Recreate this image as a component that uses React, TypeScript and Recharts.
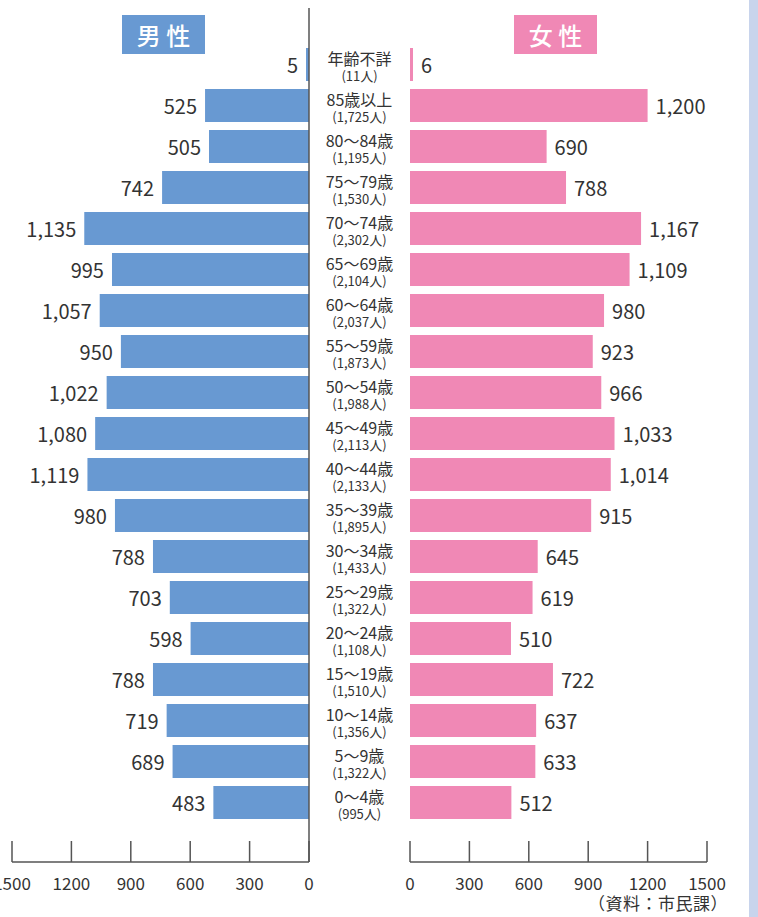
import React from "react";
import { BarChart, Bar, XAxis, YAxis, LabelList } from "recharts";

const ages = [
    "年齢不詳", "85歳以上", "80～84歳", "75～79歳", "70～74歳", "65～69歳", "60～64歳",
    "55～59歳", "50～54歳", "45～49歳", "40～44歳", "35～39歳", "30～34歳", "25～29歳",
    "20～24歳", "15～19歳", "10～14歳", "5～9歳", "0～4歳",
];
const male = [5, 525, 505, 742, 1135, 995, 1057, 950, 1022, 1080, 1119, 980, 788, 703, 598, 788, 719, 689, 483];
const female = [6, 1200, 690, 788, 1167, 1109, 980, 923, 966, 1033, 1014, 915, 645, 619, 510, 722, 637, 633, 512];
const totals = [11, 1725, 1195, 1530, 2302, 2104, 2037, 1873, 1988, 2113, 2133, 1895, 1433, 1322, 1108, 1510, 1356, 1322, 995];
const ticks = [0, 300, 600, 900, 1200, 1500];

const FONT = '"Noto Sans CJK JP", "Noto Sans", sans-serif';
const BLUE = "#6899d2";
const PINK = "#f088b5";
const AXIS = "#555";
const TEXT = "#333";

const rows = ages.map((age, i) => ({ age, male: male[i], female: female[i], total: totals[i] }));

const AxisTick = ({ x, y, payload }: any) => (
    <g>
        <line x1={x} x2={x} y1={y - 21} y2={y} stroke={AXIS} strokeWidth={1.5} />
        <text x={x} y={y + 20} textAnchor="middle" dominantBaseline="central" fontSize={17} fill={TEXT} fontFamily={FONT}>
            {payload.value}
        </text>
    </g>
);

const AgeTick = ({ x, y, payload }: any) => {
    const i = ages.indexOf(payload.value);
    return (
        <g fontFamily={FONT} fill={TEXT}>
            <text x={x + 50.5} y={y - 7} textAnchor="middle" dominantBaseline="central" fontSize={16}>
                {payload.value}
            </text>
            <text x={x + 50.5} y={y + 10.5} textAnchor="middle" dominantBaseline="central" fontSize={13}>
                ({totals[i].toLocaleString("en-US")}人)
            </text>
        </g>
    );
};

// side: which way the value text goes from the bar end
const valueLabel = (side: "left" | "right") => (p: any) => {
    const vb = p.viewBox && p.viewBox.width !== undefined ? p.viewBox : p;
    const { x, y, width, height } = vb;
    const lx = side === "left" ? Math.min(x, x + width) - 8 : Math.max(x, x + width) + 8;
    return (
        <text
            x={lx}
            y={y + height / 2}
            textAnchor={side === "left" ? "end" : "start"}
            dominantBaseline="central"
            fontSize={20}
            fill={TEXT}
            fontFamily={FONT}
        >
            {Number(p.value).toLocaleString("en-US")}
        </text>
    );
};

const titleBox = (left: number, bg: string, label: string) => (
    <div
        style={{
            position: "absolute",
            left,
            top: 15,
            width: 83,
            height: 39,
            background: bg,
            color: "#fff",
            fontFamily: FONT,
            fontSize: 24,
            fontWeight: 500,
            display: "flex",
            alignItems: "center",
            justifyContent: "center",
        }}
    >
        {label}
    </div>
);

export default function App() {
    return (
        <div style={{ position: "absolute", left: 0, top: 0, width: 758, height: 917, background: "#fff", overflow: "hidden" }}>
            {/* 男性 */}
            <div style={{ position: "absolute", left: 0, top: 0 }}>
                <BarChart
                    width={410}
                    height={917}
                    layout="vertical"
                    data={rows}
                    margin={{ top: 8, right: 0, bottom: 0, left: 12 }}
                >
                    <XAxis
                        type="number"
                        domain={[0, 1500]}
                        ticks={ticks}
                        reversed
                        height={55}
                        tickSize={0}
                        tickMargin={0}
                        tickLine={false}
                        axisLine={{ stroke: AXIS, strokeWidth: 1.5 }}
                        tick={<AxisTick />}
                        interval={0}
                    />
                    <YAxis
                        type="category"
                        dataKey="age"
                        orientation="right"
                        width={101}
                        padding={{ top: 36, bottom: 39 }}
                        tickSize={0}
                        tickMargin={0}
                        tickLine={false}
                        axisLine={{ stroke: AXIS, strokeWidth: 1.5 }}
                        tick={<AgeTick />}
                        interval={0}
                    />
                    <Bar dataKey="male" fill={BLUE} barSize={33} minPointSize={3} isAnimationActive={false}>
                        <LabelList dataKey="male" content={valueLabel("left")} />
                    </Bar>
                </BarChart>
            </div>

            {/* 女性 */}
            <div style={{ position: "absolute", left: 400, top: 0 }}>
                <BarChart
                    width={358}
                    height={917}
                    layout="vertical"
                    data={rows}
                    margin={{ top: 8, right: 51, bottom: 0, left: 10 }}
                >
                    <XAxis
                        type="number"
                        domain={[0, 1500]}
                        ticks={ticks}
                        height={55}
                        tickSize={0}
                        tickMargin={0}
                        tickLine={false}
                        axisLine={{ stroke: AXIS, strokeWidth: 1.5 }}
                        tick={<AxisTick />}
                        interval={0}
                    />
                    <YAxis
                        type="category"
                        dataKey="age"
                        width={0}
                        padding={{ top: 36, bottom: 39 }}
                        tick={false}
                        tickLine={false}
                        axisLine={{ stroke: AXIS, strokeWidth: 1.5 }}
                    />
                    <Bar dataKey="female" fill={PINK} barSize={33} minPointSize={3} isAnimationActive={false}>
                        <LabelList dataKey="female" content={valueLabel("right")} />
                    </Bar>
                </BarChart>
            </div>

            {titleBox(122, BLUE, "男 性")}
            {titleBox(514, PINK, "女 性")}

            <div
                style={{
                    position: "absolute",
                    left: 588,
                    top: 892,
                    fontFamily: FONT,
                    fontSize: 17,
                    letterSpacing: 0.5,
                    color: TEXT,
                    whiteSpace: "nowrap",
                    lineHeight: "22px",
                }}
            >
                （資料：市民課）
            </div>

            <div style={{ position: "absolute", left: 749, top: 0, width: 9, height: 917, background: "#c8d4ec" }} />
        </div>
    );
}
